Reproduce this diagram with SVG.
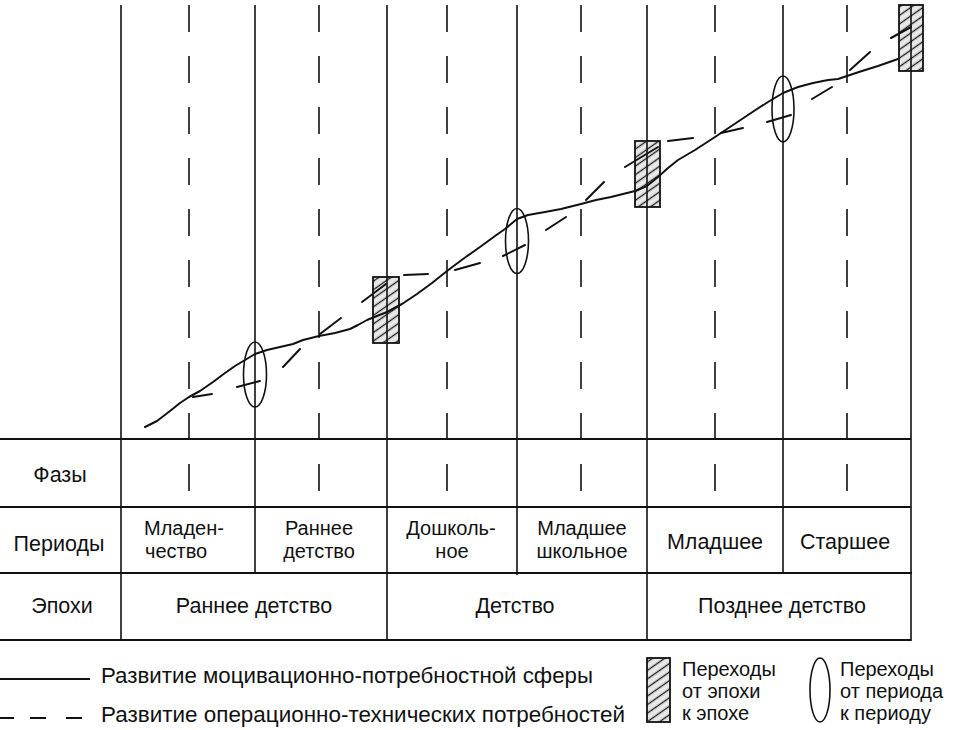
<svg xmlns="http://www.w3.org/2000/svg" width="958" height="730" viewBox="0 0 958 730">
<style>
.v{stroke:#111;stroke-width:1.6;fill:none}
.vd{stroke:#111;stroke-width:1.6;fill:none;stroke-dasharray:27 24}
.tb{stroke:#111;stroke-width:2;fill:none}
.crv{stroke:#111;stroke-width:2;fill:none;stroke-linejoin:round;stroke-linecap:round}
.trans{fill:url(#hatch);stroke:#111;stroke-width:1.8}
.ell{fill:none;stroke:#111;stroke-width:1.6}
text{font-family:"Liberation Sans",Arial,sans-serif;font-size:21.5px;fill:#111}
.c{text-anchor:middle}
.two{font-size:20px}
.lg{font-size:20px}
</style>
<defs>
<pattern id="hatch" patternUnits="userSpaceOnUse" width="7" height="7" patternTransform="rotate(-35)">
<rect width="7" height="7" fill="#e8e8e8"/>
<line x1="0" y1="3.5" x2="7" y2="3.5" stroke="#222" stroke-width="1.4"/>
</pattern>
</defs>
<rect width="958" height="730" fill="#fff"/>

<g id="grid">
<line class="v" x1="121" y1="5" x2="121" y2="641"/>
<line class="v" x1="255" y1="5" x2="255" y2="573"/>
<line class="v" x1="387" y1="5" x2="387" y2="641"/>
<line class="v" x1="517" y1="5" x2="517" y2="575"/>
<line class="v" x1="647" y1="5" x2="647" y2="641"/>
<line class="v" x1="783" y1="5" x2="783" y2="573"/>
<line class="v" x1="911" y1="5" x2="911" y2="641"/>
<line class="vd" x1="189" y1="5" x2="189" y2="507"/>
<line class="vd" x1="319" y1="5" x2="319" y2="507"/>
<line class="vd" x1="447" y1="5" x2="447" y2="507"/>
<line class="vd" x1="581" y1="5" x2="581" y2="507"/>
<line class="vd" x1="715" y1="5" x2="715" y2="507"/>
<line class="vd" x1="847" y1="5" x2="847" y2="507"/>
</g>

<g id="table">
<line class="tb" x1="0" y1="439" x2="911" y2="439"/>
<line class="tb" x1="0" y1="507" x2="911" y2="507"/>
<line class="tb" x1="0" y1="573" x2="912" y2="573"/>
<line class="tb" x1="0" y1="640" x2="911" y2="640"/>
<text class="c" x="60" y="482">Фазы</text>
<text class="c" x="59" y="551">Периоды</text>
<text class="c" x="62" y="613">Эпохи</text>
<text class="two" x="144" y="535">Младен-</text>
<text class="two" x="145" y="558">чество</text>
<text class="c two" x="319" y="535">Раннее</text>
<text class="c two" x="319" y="558">детство</text>
<text class="c two" x="451" y="535">Дошколь-</text>
<text class="c two" x="452" y="558">ное</text>
<text class="c two" x="582" y="535">Младшее</text>
<text class="c two" x="582" y="558">школьное</text>
<text class="c" x="715" y="549">Младшее</text>
<text class="c" x="845" y="549">Старшее</text>
<text class="c" x="254" y="613">Раннее детство</text>
<text class="c" x="515" y="613">Детство</text>
<text class="c" x="782" y="613">Позднее детство</text>
</g>

<g id="epoch-transitions">
<rect class="trans" x="373" y="277" width="26" height="66"/>
<rect class="trans" x="635" y="141" width="25" height="66"/>
<rect class="trans" x="899" y="5" width="24" height="66"/>
<line class="v" x1="387" y1="277" x2="387" y2="343"/>
<line class="v" x1="647" y1="141" x2="647" y2="207"/>
<line class="v" x1="911" y1="5" x2="911" y2="71"/>
</g>

<g id="connectors">
<path id="motivational" class="crv" d="M145 427 L157 421 L170 411 L180 403 L189 397 L200 391 L213 382 L225 373 L235 366 L245 360 L255 354 L267 350 L280 347 L293 344 L303 340 L319 336 L335 333 L350 329 L358 325 L367 320 L387 312 L402 304 L417 294 L432 283 L447 271 L463 259 L480 247 L495 236 L505 229 L517 219 L528 215 L545 212 L561 209 L581 204 L596 200 L611 197 L623 194 L635 191 L647 186 L658 177 L668 168 L678 160 L695 150 L715 137 L730 127 L745 117 L757 109 L768 102 L783 93 L798 87 L813 83 L828 80 L838 79 L847 76 L862 71 L878 66 L898 59"/>
<path id="operational" class="crv" d="M193 397 L212 394 M237 387 L260 381 M283 367 L300 349 M320 334 L341 318 M362 302 L386 284 M404 275 L428 274 M455 270 L480 263 M503 256 L525 245 M546 230 L566 217 M586 200 L604 182 M625 167 L658 147 M668 141 L693 138 M721 133 L743 128 M767 122 L791 115 M812 99 L832 87 M850 70 L870 52 M891 38 L911 27"/>
</g>

<g id="period-transitions">
<ellipse class="ell" cx="255" cy="374.5" rx="11.5" ry="32.5"/>
<ellipse class="ell" cx="517" cy="241" rx="11.5" ry="32.5"/>
<ellipse class="ell" cx="783" cy="109" rx="11" ry="33"/>
</g>

<g id="legend">
<line class="crv" x1="0" y1="679" x2="90" y2="679" style="stroke-linecap:butt"/>
<path class="crv" style="stroke-linecap:butt" d="M0 718 L14 718 M30 718 L46 718 M66 718 L82 718"/>
<text x="101" y="683" textLength="492" lengthAdjust="spacingAndGlyphs">Развитие моцивационно-потребностной сферы</text>
<text x="101" y="722" textLength="524" lengthAdjust="spacingAndGlyphs">Развитие операционно-технических потребностей</text>
<rect class="trans" x="647" y="658" width="23" height="64"/>
<text class="lg" x="682" y="676">Переходы</text>
<text class="lg" x="682" y="698">от эпохи</text>
<text class="lg" x="682" y="720">к эпохе</text>
<ellipse class="ell" cx="820" cy="690" rx="10" ry="32"/>
<text class="lg" x="840" y="676">Переходы</text>
<text class="lg" x="840" y="698">от периода</text>
<text class="lg" x="840" y="720">к периоду</text>
</g>
</svg>
